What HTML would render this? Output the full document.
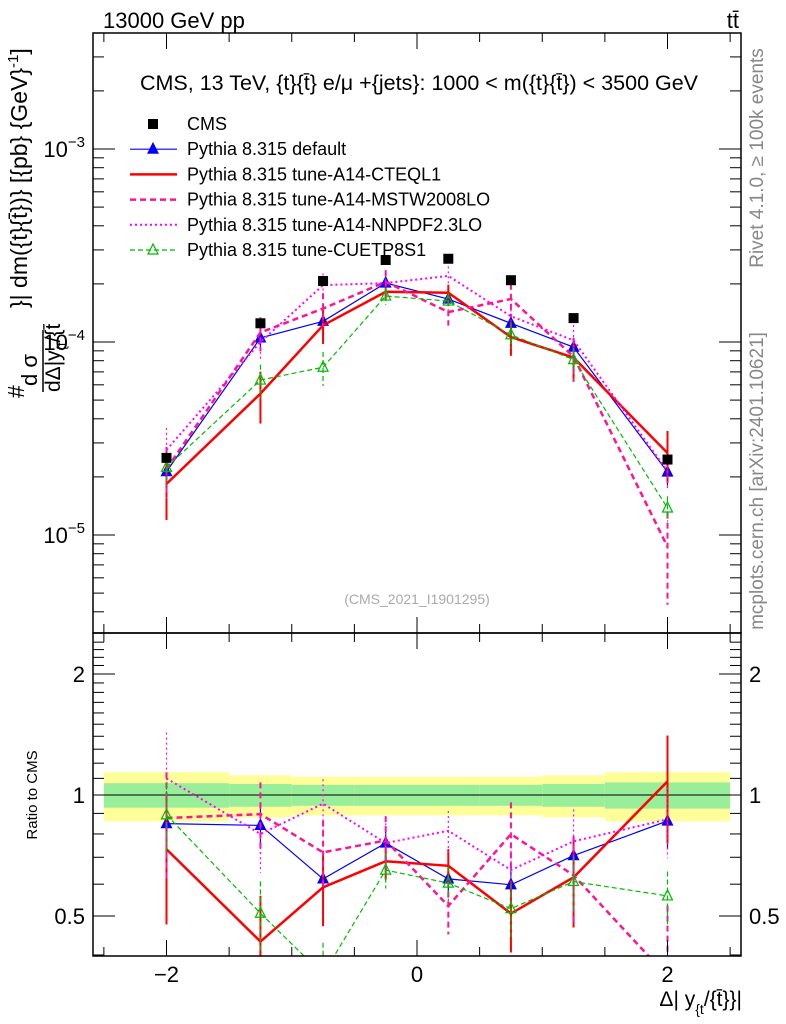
<!DOCTYPE html>
<html><head><meta charset="utf-8"><style>
html,body{margin:0;background:#fff;overflow:hidden;width:786px;height:1024px}
svg{display:block;font-family:"Liberation Sans",sans-serif;overflow:hidden}
</style></head><body>
<svg id="c" width="786" height="1024" viewBox="0 0 786 1024" xmlns="http://www.w3.org/2000/svg">
<defs>
<clipPath id="cm"><rect x="93" y="33" width="648" height="600"/></clipPath>
<clipPath id="cr"><rect x="93" y="633" width="648" height="323"/></clipPath>
</defs>
<text x="103" y="28" font-size="22">13000 GeV pp</text>
<text x="739" y="28" font-size="22" text-anchor="end">tt̄</text>
<text x="419" y="90" font-size="21.5" text-anchor="middle">CMS, 13 TeV, {t}{t̄} e/μ +{jets}: 1000 &lt; m({t}{t̄}) &lt; 3500 GeV</text>
<text x="417" y="604" font-size="14" fill="#aaa" text-anchor="middle">(CMS_2021_I1901295)</text>
<text transform="translate(763,158) rotate(-90)" font-size="19" fill="#888" text-anchor="middle">Rivet 4.1.0, ≥ 100k events</text>
<text transform="translate(763,481) rotate(-90)" font-size="19" fill="#888" text-anchor="middle">mcplots.cern.ch [arXiv:2401.10621]</text>
<g font-size="23">
<text transform="translate(24,398) rotate(-90)">#</text>
<text transform="translate(37,386) rotate(-90)" font-size="22">d σ</text>
<line x1="43" y1="392" x2="43" y2="330" stroke="#000" stroke-width="1.5"/>
<text transform="translate(60,392) rotate(-90)" font-size="21">dΔ|y<tspan font-size="13" dy="6">{t</tspan><tspan dy="-6">/{t̄</tspan></text>
<text transform="translate(27,308) rotate(-90)">}| dm({t}{t̄})} [{pb} {GeV}<tspan font-size="15" dy="-9">-1</tspan><tspan dy="9">]</tspan></text>
</g>
<text transform="translate(37,795) rotate(-90)" font-size="15" text-anchor="middle">Ratio to CMS</text>
<text x="742" y="1006" font-size="21" text-anchor="end">Δ| y<tspan font-size="14" dy="8">{t</tspan><tspan dy="-8">/{t̄}}|</tspan></text>
<g id="main"></g><g id="ratio"></g><g id="axes"></g>
</svg>
<script>
const xCenters=[-2,-1.25,-0.75,-0.25,0.25,0.75,1.25,2];
const binEdges=[-2.5,-1.5,-1,-0.5,0,0.5,1,1.5,2.5];
const cmsVals=[2.51e-5,1.25e-4,2.07e-4,2.66e-4,2.7e-4,2.09e-4,1.33e-4,2.46e-5];
const bandInner=[0.07,0.065,0.06,0.06,0.06,0.06,0.065,0.075];
const bandOuter=[0.14,0.12,0.11,0.11,0.11,0.11,0.12,0.14];
const defVals=[2.13e-5,1.05e-4,1.28e-4,2.02e-4,1.67e-4,1.25e-4,9.4e-5,2.12e-5];
const defErr=[0.15,0.12,0.1,0.08,0.08,0.1,0.12,0.15];
const a14cVals=[1.84e-5,5.4e-5,1.22e-4,1.82e-4,1.8e-4,1.06e-4,8.3e-5,2.66e-5];
const a14cErr=[0.35,0.3,0.2,0.1,0.1,0.2,0.25,0.3];
const mstwVals=[2.2e-5,1.12e-4,1.49e-4,2.05e-4,1.43e-4,1.67e-4,8.4e-5,8.7e-6];
const mstwErr=[0.3,0.2,0.2,0.15,0.15,0.2,0.25,0.5];
const nnpdfVals=[2.76e-5,1.0e-4,1.97e-4,2.02e-4,2.2e-4,1.36e-4,1.02e-4,2.14e-5];
const nnpdfErr=[0.3,0.2,0.15,0.12,0.12,0.15,0.2,0.2];
const cuetVals=[2.24e-5,6.35e-5,7.4e-5,1.73e-4,1.63e-4,1.09e-4,8.1e-5,1.38e-5];
const cuetErr=[0.2,0.2,0.2,0.1,0.1,0.15,0.15,0.15];
const yTicks=[1e-3,1e-4,1e-5];
const yTickLabels=["-3","-4","-5"];
const rTicks=[0.5,1,2];
const rTickLabels=["0.5","1","2"];
const xTicks=[-2,0,2];
const xTickLabels=["\u22122","0","2"];

const NS="http://www.w3.org/2000/svg";
const L=93,R=741,MT=33,MB=633,RB=956;
const X=v=>417+(v)*125.25;
const Y=v=>149+(-3-Math.log10(v))*193;
const YR=v=>795-Math.log10(v)*402;
function mk(p,t,a){const e=document.createElementNS(NS,t);for(const k in a)e.setAttribute(k,a[k]);p.appendChild(e);return e;}
const main=document.getElementById('main'),ratio=document.getElementById('ratio'),axes=document.getElementById('axes');
for(let i=0;i<xCenters.length;i++){
 const x1=X(binEdges[i]),x2=X(binEdges[i+1]);
 let r=mk(ratio,'rect',{x:x1,y:YR(1+bandOuter[i]),width:x2-x1,height:YR(1-bandOuter[i])-YR(1+bandOuter[i]),fill:'#ffff99'});
 
 
 r=mk(ratio,'rect',{x:x1,y:YR(1+bandInner[i]),width:x2-x1,height:YR(1-bandInner[i])-YR(1+bandInner[i]),fill:'#99ee99'});
 
 
}
let ln=mk(ratio,'line',{x1:L,x2:R,y1:YR(1),y2:YR(1),stroke:'#000','stroke-width':1});


const series=[
 {name:'pythia-default',v:defVals,e:defErr,c:'#0000ff',w:1.2,d:'',m:'tri'},
 {name:'pythia-a14-cteql1',v:a14cVals,e:a14cErr,c:'#ff0000',w:2.5,d:'',m:''},
 {name:'pythia-a14-mstw2008lo',v:mstwVals,e:mstwErr,c:'#ff1493',w:2.5,d:'6,4',m:''},
 {name:'pythia-a14-nnpdf23lo',v:nnpdfVals,e:nnpdfErr,c:'#ff00ff',w:2,d:'2,3',m:''},
 {name:'pythia-cuetp8s1',v:cuetVals,e:cuetErr,c:'#00bb00',w:1.2,d:'5,3',m:'otri'}];
function tri(g,x,y,c,open){return mk(g,'polygon',{points:`${x},${y-6} ${x-5},${y+4} ${x+5},${y+4}`,fill:open?'none':c,stroke:c,'stroke-width':1.2});}
series.forEach(s=>{
 [[main,Y,s.v.map(v=>v)],[ratio,YR,s.v.map((v,i)=>v/cmsVals[i])]].forEach(([par,F,vals],pi)=>{
  const g=mk(par,'g',{'clip-path':pi?'url(#cr)':'url(#cm)'});
  
  
  vals.forEach((v,i)=>{const el=mk(g,'line',{x1:X(xCenters[i]),x2:X(xCenters[i]),y1:F(v*(1+s.e[i])),y2:F(v*(1-s.e[i])),stroke:s.c,'stroke-width':s.w>2?2:1.2,'stroke-dasharray':s.d});
   
   });
  const p=mk(g,'polyline',{points:vals.map((v,i)=>X(xCenters[i])+','+F(v)).join(' '),fill:'none',stroke:s.c,'stroke-width':s.w,'stroke-dasharray':s.d});
  
  
  if(s.m)vals.forEach((v,i)=>{const t=tri(g,X(xCenters[i]),F(v),s.c,s.m==='otri');
   
   });
 });
});
const cg=mk(main,'g',{});


cmsVals.forEach((v,i)=>{const x=X(xCenters[i]);
 const r=mk(cg,'rect',{x:x-5,y:Y(v)-5,width:10,height:10,fill:'#000'});
 
 });
[[MT,MB],[MB,RB]].forEach(([t,b])=>mk(axes,'rect',{x:L,y:t,width:R-L,height:b-t,fill:'none',stroke:'#000','stroke-width':1.5}));
function tk(x1,y1,x2,y2){mk(axes,'line',{x1,y1,x2,y2,stroke:'#000','stroke-width':1});}
for(let v=-2.5;v<=2.5;v+=0.5){const x=X(v),big=xTicks.includes(v)?1:0;const len=big?16:9;
 tk(x,MB,x,MB-len);tk(x,MT,x,MT+len);tk(x,RB,x,RB-len);tk(x,MB,x,MB+len);}
for(let d=-6;d<=-2;d++)for(let m=1;m<10;m++){const v=m*Math.pow(10,d),y=Y(v);if(y<MT||y>MB)continue;const len=m==1?22:11;tk(L,y,L+len,y);tk(R,y,R-len,y);}
for(let v=0.4;v<=2.5;v+=0.1){const y=YR(v);if(y<MB||y>RB)continue;const big=[0.5,1,2].some(q=>Math.abs(q-v)<1e-6);const len=big?22:11;tk(L,y,L+len,y);tk(R,y,R-len,y);}
yTicks.forEach((v,i)=>{const t=mk(axes,'text',{x:L-8,y:Y(v)+8,'font-size':22,'text-anchor':'end'});t.innerHTML='10<tspan font-size="15" dy="-10">\u2212'+yTickLabels[i].slice(1)+'</tspan>';
 
 });
rTicks.forEach((v,i)=>{[[L-8,'end'],[R+8,'start']].forEach(([x,a])=>{const t=mk(axes,'text',{x,y:YR(v)+8,'font-size':22,'text-anchor':a});t.textContent=rTickLabels[i];
 
 });});
xTicks.forEach((v,i)=>{const t=mk(axes,'text',{x:X(v),y:982,'font-size':22,'text-anchor':'middle'});t.textContent=xTickLabels[i];
 
 });
const leg=mk(axes,'g',{});


const labels=['CMS','Pythia 8.315 default','Pythia 8.315 tune-A14-CTEQL1','Pythia 8.315 tune-A14-MSTW2008LO','Pythia 8.315 tune-A14-NNPDF2.3LO','Pythia 8.315 tune-CUETP8S1'];
labels.forEach((lb,i)=>{const y=124+i*25.2;const e=mk(leg,'g',{});
 
 
 if(i==0)mk(e,'rect',{x:148,y:y-5,width:10,height:10,fill:'#000'});
 else{const s=series[i-1];mk(e,'line',{x1:130,x2:177,y1:y,y2:y,stroke:s.c,'stroke-width':s.w,'stroke-dasharray':s.d});if(s.m)tri(e,153,y,s.c,s.m==='otri');}
 const t=mk(e,'text',{x:187,y:y+6,'font-size':18});t.textContent=lb;});
</script>
</body></html>
